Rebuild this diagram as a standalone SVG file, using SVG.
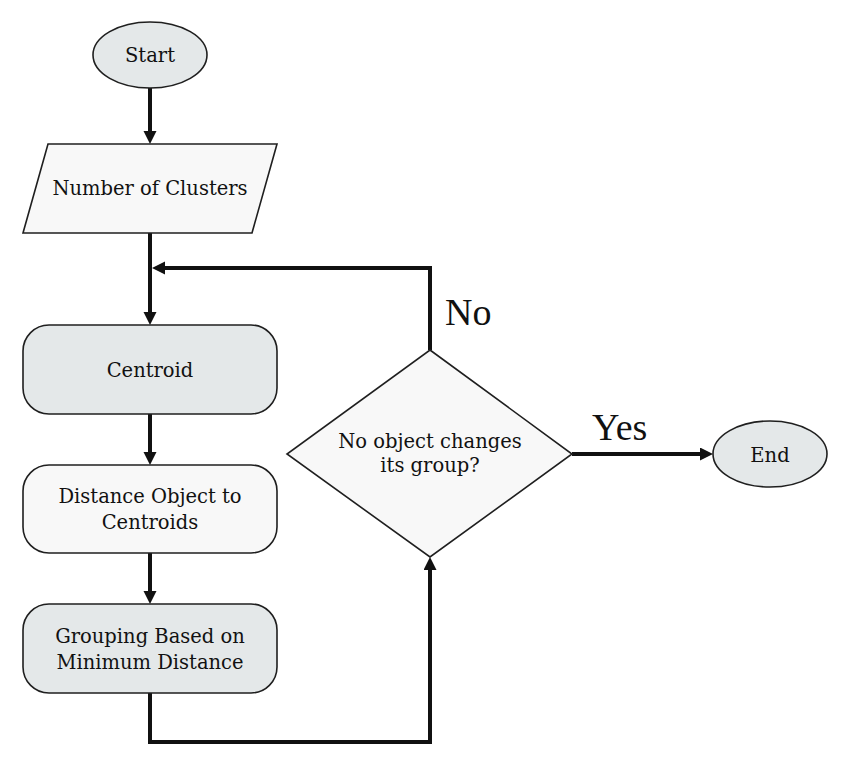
<svg xmlns="http://www.w3.org/2000/svg" width="850" height="780" viewBox="0 0 850 780">
<style>
  .shape { stroke: #1f1f1f; stroke-width: 1.6; }
  .grey { fill: #e4e8e9; }
  .light { fill: #f8f8f8; }
  .lbl { font-family: "DejaVu Serif", "Liberation Serif", serif; font-size: 19.5px; fill: #111; text-anchor: middle; }
  .big { font-family: "Liberation Serif", "Times New Roman", serif; font-size: 38px; fill: #111; }
  .conn { fill: none; stroke: #111; stroke-width: 4; stroke-linejoin: miter; }
</style>
<defs>
  <marker id="arrow" markerUnits="userSpaceOnUse" markerWidth="14" markerHeight="14" refX="7" refY="6.5" orient="auto">
    <path d="M0,0 L13,6.5 L0,13 z" fill="#111"/>
  </marker>
</defs>
<rect width="850" height="780" fill="#ffffff"/>
<g id="connectors">
  <path class="conn" d="M150,88 L150,138" marker-end="url(#arrow)"/>
  <path class="conn" d="M150,233 L150,319" marker-end="url(#arrow)"/>
  <path class="conn" d="M430,350 L430,268 L158,268" marker-end="url(#arrow)"/>
  <path class="conn" d="M150,414 L150,459" marker-end="url(#arrow)"/>
  <path class="conn" d="M150,553 L150,598" marker-end="url(#arrow)"/>
  <path class="conn" d="M150,693 L150,742 L430,742 L430,563" marker-end="url(#arrow)"/>
  <path class="conn" d="M572,454 L707,454" marker-end="url(#arrow)"/>
  <text class="big" x="445" y="325">No</text>
  <text class="big" x="592" y="440">Yes</text>
</g>
<g id="start">
  <ellipse class="shape grey" cx="150" cy="55" rx="57" ry="33"/>
  <text class="lbl" x="150" y="62">Start</text>
</g>
<g id="clusters">
  <polygon class="shape light" points="48,144 277,144 252,233 23,233"/>
  <text class="lbl" x="150" y="195">Number of Clusters</text>
</g>
<g id="centroid">
  <rect class="shape grey" x="23" y="325" width="254" height="89" rx="26" ry="26"/>
  <text class="lbl" x="150" y="377">Centroid</text>
</g>
<g id="distance">
  <rect class="shape light" x="23" y="465" width="254" height="88" rx="26" ry="26"/>
  <text class="lbl" x="150" y="503">Distance Object to</text>
  <text class="lbl" x="150" y="529">Centroids</text>
</g>
<g id="grouping">
  <rect class="shape grey" x="23" y="604" width="254" height="89" rx="26" ry="26"/>
  <text class="lbl" x="150" y="643">Grouping Based on</text>
  <text class="lbl" x="150" y="669">Minimum Distance</text>
</g>
<g id="decision">
  <polygon class="shape light" points="430,350 572,454 430,557 287,454"/>
  <text class="lbl" x="430" y="448">No object changes</text>
  <text class="lbl" x="430" y="472">its group?</text>
</g>
<g id="end">
  <ellipse class="shape grey" cx="770" cy="454" rx="57" ry="33"/>
  <text class="lbl" x="770" y="462">End</text>
</g>
</svg>
